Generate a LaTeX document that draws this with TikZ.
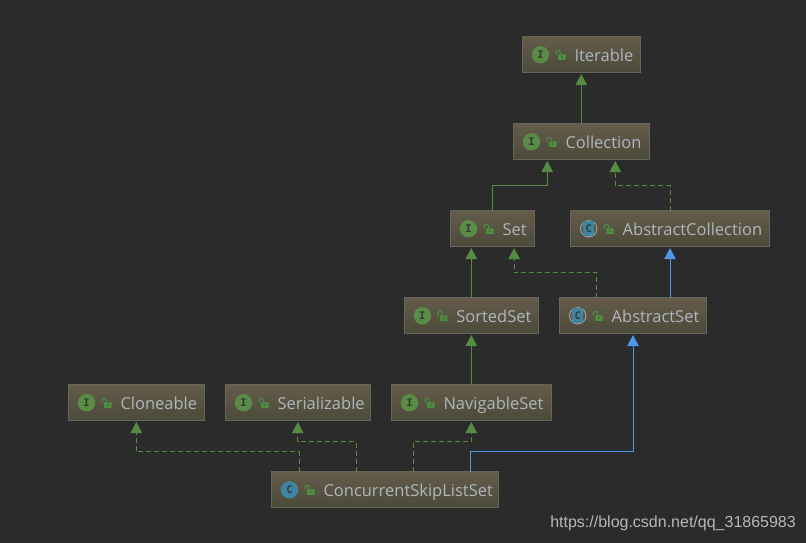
\documentclass[tikz,border=0pt]{standalone}
\usepackage{fontspec}
\setmainfont{Open Sans}
\newfontfamily\urlfont{Liberation Sans}
\newfontfamily\iconfont{DejaVu Sans Mono}
\usetikzlibrary{positioning, arrows.meta}

\definecolor{bgdark}{HTML}{2B2B2B}
\definecolor{boxtop}{HTML}{655C4B}
\definecolor{boxbottom}{HTML}{4B4A39}
\definecolor{boxline}{HTML}{66665C}
\definecolor{labeltext}{HTML}{AEB6BE}
\definecolor{greenline}{HTML}{548C42}
\definecolor{blueline}{HTML}{4F97E8}
\definecolor{ifacegreen}{HTML}{5B8C47}
\definecolor{lockgreen}{HTML}{4B9040}
\definecolor{classblue}{HTML}{40859F}

\begin{document}
\begin{tikzpicture}[
        x=1pt, y=1pt,
        node distance=51.4pt,
        umlbox/.style={rectangle, draw=boxline, line width=1pt, top color=boxtop, bottom color=boxbottom, text=labeltext,
            inner xsep=0pt, inner ysep=0pt, outer sep=0pt, minimum height=35.6pt, text height=15pt, text depth=1.4pt,
            align=left, font=\fontsize{16.5}{18}\selectfont},
        iconbase/.style={circle, inner sep=0pt, minimum size=17.4pt, font=\iconfont\bfseries\fontsize{10.5}{12}\selectfont},
        ifaceicon/.style={iconbase, fill=ifacegreen, text=bgdark!85!ifacegreen},
        classicon/.style={iconbase, fill=classblue, text=bgdark!80!classblue},
        abstracticon/.style={iconbase, text=bgdark!80!classblue},
        extendsline/.style={-{Triangle[width=11.5pt,length=11pt]}, line width=1pt, shorten >=1.5pt},
        greenarrow/.style={extendsline, greenline},
        bluearrow/.style={extendsline, blueline},
        implarrow/.style={greenarrow, dash pattern=on 5pt off 3pt},
        lock/.pic={
            \fill[lockgreen, even odd rule] (-2.3,-5) rectangle (5,0.3) (0.5,-3) rectangle (2.2,-1.5);
            \draw[lockgreen, line width=1.1pt] (-4.4,0) -- (-4.4,2.4) arc (180:0:2.1) -- (-0.2,1);
        }
    ]
        \fill[bgdark] (0,0) rectangle (806,543);
        \useasboundingbox (0,0) rectangle (806,543);

        % Upper hierarchy
        \node[umlbox, text width=117.6pt] (iterable) at (581.3,488.2) {\hspace*{52pt}Iterable};
        \node[umlbox, text width=135.6pt, below=of iterable] (collection) {\hspace*{52pt}Collection};
        \node[umlbox, text width=83.6pt, below=of collection, xshift=-89pt] (set) {\hspace*{52pt}Set};
        \node[umlbox, text width=198.6pt, right=36.6pt of set] (abstractcollection) {\hspace*{52pt}AbstractCollection};

        % Middle rows
        \node[umlbox, text width=133.8pt, below=of set, xshift=-21pt] (sortedset) {\hspace*{52pt}SortedSet};
        \node[umlbox, text width=146.6pt, below=of abstractcollection, xshift=-37pt] (abstractset) {\hspace*{52pt}AbstractSet};
        \node[umlbox, text width=159.6pt, below=of sortedset] (navigableset) {\hspace*{52pt}NavigableSet};
        \node[umlbox, text width=144.6pt, left=21.4pt of navigableset] (serializable) {\hspace*{52pt}Serializable};
        \node[umlbox, text width=135.6pt, left=21.4pt of serializable] (cloneable) {\hspace*{52pt}Cloneable};

        % Bottom
        \node[umlbox, text width=226.6pt, below=of navigableset, xshift=-86.5pt] (skiplistset) {\hspace*{52pt}ConcurrentSkipListSet};

        % Icons
        \foreach \n in {iterable, collection, set, sortedset, navigableset, serializable, cloneable}
            \node[ifaceicon] (\n-icon) at ([xshift=18pt]\n.west) {I};
        \node[classicon] (skiplistset-icon) at ([xshift=18pt]skiplistset.west) {C};
        \foreach \n in {abstractcollection, abstractset} {
            \fill[gray!75] ([xshift=18pt]\n.west) circle (8.7pt);
            \fill[boxtop!70!boxbottom] ([xshift=18pt]\n.west) circle (7.6pt);
            \fill[classblue] ([xshift=12.7pt,yshift=-7.6pt]\n.west) rectangle ([xshift=23.3pt,yshift=7.6pt]\n.west);
            \node[abstracticon] (\n-icon) at ([xshift=18pt]\n.west) {C};
        }
        \foreach \n in {iterable, collection, set, sortedset, navigableset, serializable, cloneable, skiplistset, abstractcollection, abstractset}
            \pic at ([xshift=38pt]\n.west) {lock};

        % Arrows
        \draw[greenarrow] (collection.north) -- (iterable.south);
        \draw[greenarrow] (set.north) -- ++(0,25) -| ([xshift=-34pt]collection.south);
        \draw[implarrow] (abstractcollection.north) -- ++(0,25) -| ([xshift=34pt]collection.south);
        \draw[greenarrow] (sortedset.north) -- (sortedset.north |- set.south);
        \draw[implarrow] ([xshift=-36.3pt]abstractset.north) -- ++(0,25) -| ([xshift=21.8pt]set.south);
        \draw[bluearrow] (abstractcollection.south |- abstractset.north) -- (abstractcollection.south);
        \draw[greenarrow] (navigableset.north) -- (sortedset.south);

        % Arrows of the bottom class
        \draw[implarrow] ([xshift=-85.7pt]skiplistset.north) -- ++(0,20) -| (cloneable.south);
        \draw[implarrow] ([xshift=-28.7pt]skiplistset.north) -- ++(0,30) -| (serializable.south);
        \draw[implarrow] ([xshift=28.3pt]skiplistset.north) -- ++(0,30) -| (navigableset.south);
        \draw[bluearrow] ([xshift=85.3pt]skiplistset.north) -- ++(0,20) -| (abstractset.south);

        % Watermark
        \node[anchor=east, text=white!66!bgdark, inner sep=0pt, font=\urlfont\fontsize{16}{18}\selectfont] (watermark) at (796,19.5) {https://blog.csdn.net/qq\_31865983};
    \end{tikzpicture}
\end{document}
